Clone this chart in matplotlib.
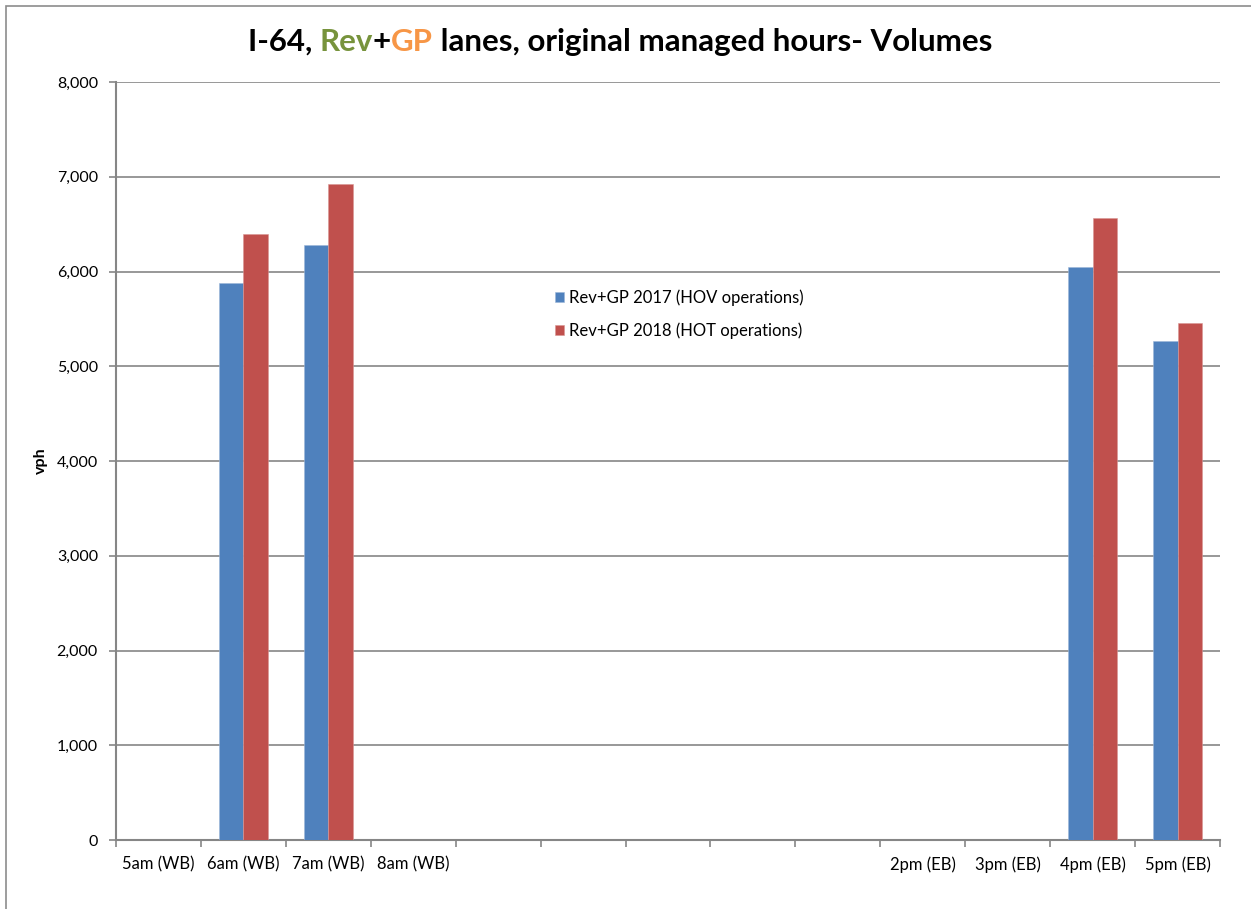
import matplotlib
matplotlib.use("Agg")
import matplotlib.pyplot as plt
from matplotlib.patches import Rectangle
from matplotlib.ticker import FuncFormatter, MultipleLocator
import numpy as np

plt.rcParams["font.family"] = ["Lato", "DejaVu Sans"]

# data
categories = ["5am (WB)", "6am (WB)", "7am (WB)", "8am (WB)", "", "", "", "", "",
              "2pm (EB)", "3pm (EB)", "4pm (EB)", "5pm (EB)"]
vol_2017 = [0, 5880, 6280, 0, 0, 0, 0, 0, 0, 0, 0, 6050, 5265]
vol_2018 = [0, 6395, 6920, 0, 0, 0, 0, 0, 0, 0, 0, 6565, 5455]
series_names = ["Rev+GP 2017 (HOV operations)", "Rev+GP 2018 (HOT operations)"]

BLUE = "#4F81BD"
RED = "#C0504D"
GRID = "#868686"

W, H = 1251, 909
fig = plt.figure(figsize=(W / 100, H / 100), dpi=100)
ax = fig.add_axes([116 / W, 1 - 840 / H, 1104 / W, 758 / H])

# outer chart frame (only top/left edges visible in the reference)
fig.patches.append(Rectangle((6 / W, -0.1), 1.2, 1 - 6 / H + 0.1,
                             transform=fig.transFigure, fill=False,
                             edgecolor="#8c8c8c", linewidth=1.2))

x = np.arange(len(categories))
bw = 1 / 3.5  # excel gap width 150%
ax.bar(x - bw / 2, vol_2017, bw, color=BLUE, label=series_names[0],
       edgecolor="#9db7d9", linewidth=0.4, zorder=3)
ax.bar(x + bw / 2, vol_2018, bw, color=RED, label=series_names[1],
       edgecolor="#d99694", linewidth=0.4, zorder=3)

ax.set_xlim(-0.5, len(categories) - 0.5)
ax.set_ylim(0, 8000)
ax.yaxis.set_major_locator(MultipleLocator(1000))
ax.yaxis.set_major_formatter(FuncFormatter(lambda v, p: f"{int(v):,}"))
ax.grid(axis="y", color=GRID, linewidth=1.2, zorder=0)

ax.set_xticks(x)
ax.set_xticklabels(categories)
ax.set_xticks(np.arange(len(categories) + 1) - 0.5, minor=True)
ax.tick_params(axis="x", which="major", length=0, pad=12, labelsize=12)
ax.tick_params(axis="x", which="minor", length=5, color=GRID, width=1.2)
ax.tick_params(axis="y", length=5, color=GRID, width=1.2, labelsize=11.5, pad=8)

for side in ["top", "right"]:
    ax.spines[side].set_visible(False)
for side in ["left", "bottom"]:
    ax.spines[side].set_color(GRID)
    ax.spines[side].set_linewidth(1.5)

ax.set_ylabel("vph", fontweight="bold", fontsize=11.5, labelpad=6)

ax.legend(loc="center left", bbox_to_anchor=(0.384, 0.694), frameon=False,
          fontsize=12, handlelength=0.55, handleheight=0.55,
          handletextpad=0.3, labelspacing=1.0)

# multi-coloured title, pieces placed side by side
pieces = [("I-64, ", "black"), ("Rev", "#77933C"), ("+", "black"),
          ("GP", "#F79646"), (" lanes, original managed hours- Volumes", "black")]
renderer = fig.canvas.get_renderer()
tprops = dict(fontsize=22.5, fontweight="bold")


def text_width(s):
    t = fig.text(0, 0, s + "x", **tprops)
    w1 = t.get_window_extent(renderer).width
    t.remove()
    t = fig.text(0, 0, "x", **tprops)
    w2 = t.get_window_extent(renderer).width
    t.remove()
    return w1 - w2


full = "".join(p[0] for p in pieces)
total = text_width(full)
x0 = 620 - total / 2
ty = 1 - 42 / H
prefix = ""
for s, c in pieces:
    px = x0 + text_width(prefix)
    fig.text(px / W, ty, s, color=c, va="center", ha="left", **tprops)
    prefix += s

fig.savefig("out.png", dpi=100)
